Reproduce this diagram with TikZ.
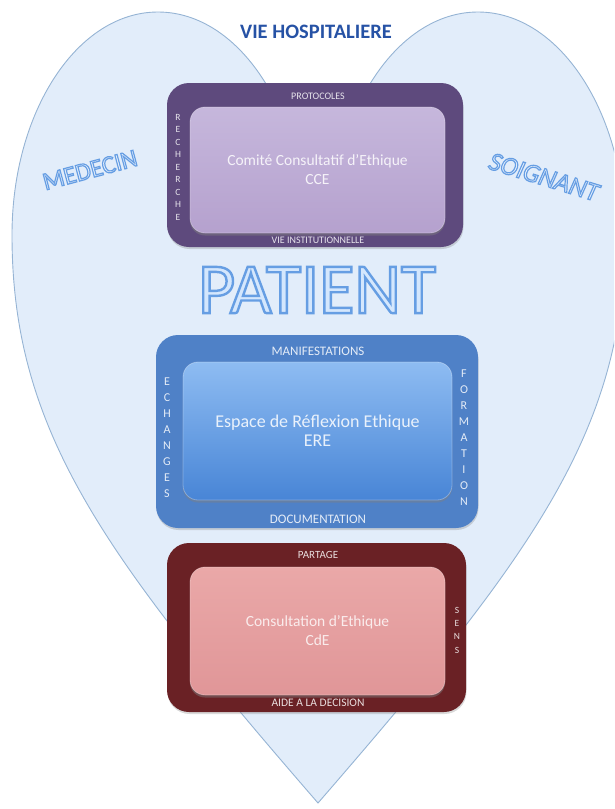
\documentclass[tikz,border=0pt]{standalone}
\usepackage{fontspec}
\setmainfont{Carlito}
\usetikzlibrary{shadows}

\definecolor{heartfill}{RGB}{226,237,250}
\definecolor{heartline}{RGB}{150,180,212}
\definecolor{titleblue}{RGB}{38,82,165}
\definecolor{paleblue}{RGB}{238,246,255}
\definecolor{patblue}{RGB}{212,231,253}
\definecolor{cceout}{RGB}{94,74,125}
\definecolor{ccetop}{RGB}{198,183,220}
\definecolor{ccebot}{RGB}{181,161,206}
\definecolor{ereout}{RGB}{79,129,199}
\definecolor{eretop}{RGB}{142,188,242}
\definecolor{erebot}{RGB}{72,133,214}
\definecolor{cdeout}{RGB}{106,33,37}
\definecolor{cdetop}{RGB}{234,168,168}
\definecolor{cdebot}{RGB}{224,150,152}

% outlined letters: fill #1, stroke blue of width #2
\newcommand{\rimword}[3]{\textcolor{#1}{\special{pdf:literal direct 2 Tr #2 w 0.40 0.62 0.89 RG}#3\special{pdf:literal direct 0 Tr}}}

\begin{document}
\begin{tikzpicture}[x=1pt,y=-1pt,
  outerbox/.style={rectangle,rounded corners=22pt,inner sep=0pt,
    drop shadow={opacity=0.3,shadow xshift=0.5pt,shadow yshift=-2pt}},
  innerbox/.style={rectangle,rounded corners=15pt,inner sep=0pt,draw=white,draw opacity=0.3,line width=0.8pt,
    drop shadow={opacity=0.45,shadow xshift=0pt,shadow yshift=-2.5pt}},
  edgelbl/.style={inner sep=0pt,font=\fontsize{#1}{#1}\selectfont},
  vlbl/.style args={#1/#2}{inner sep=0pt,align=center,font=\fontsize{#1}{#2}\selectfont},
  maintxt/.style={align=center,font=\fontsize{#1}{19}\selectfont}]

\useasboundingbox (0,0) rectangle (614,809);
\clip (0,0) rectangle (614,809);

% heart
\filldraw[fill=heartfill,draw=heartline,line width=0.9pt]
  (318,803) .. controls (103,555) and (12,430) .. (12,235)
  .. controls (12,112) and (77,12) .. (158,12)
  .. controls (239,12) and (305,112) .. (305,235)
  -- (331,235)
  .. controls (331,112) and (397,12) .. (478,12)
  .. controls (559,12) and (625,112) .. (625,235)
  .. controls (625,430) and (533,555) .. (318,803) -- cycle;

\node[font=\fontsize{20.5}{20}\selectfont\bfseries,text=titleblue] (vh) at (316,32) {VIE HOSPITALIERE};
\node[rotate=15,font=\fontsize{25}{25}\selectfont] (med) at (90,170) {\rimword{paleblue}{1.2}{MEDECIN}};
\node[rotate=-17,font=\fontsize{26}{26}\selectfont\itshape] (soi) at (544,177) {\rimword{paleblue}{1.2}{SOIGNANT}};
\node[font=\fontsize{72}{72}\selectfont] (pat) at (317,290) {\rimword{patblue}{2.4}{PATIENT}};

% comite consultatif
\node[outerbox,fill=cceout,minimum width=296pt,minimum height=164pt] (cce) at (315,165) {};
\node[innerbox,top color=ccetop,bottom color=ccebot,minimum width=255pt,minimum height=126pt] (cceIn) at (317.5,170) {};
\node[maintxt=15.5,text=white,opacity=0.85] at (cceIn) {Comité Consultatif d’Ethique\\CCE};
\node[edgelbl=10,text=white!85!cceout] at (318,96) {PROTOCOLES};
\node[edgelbl=10,text=white!85!cceout] at (318,240) {VIE INSTITUTIONNELLE};
\node[vlbl=9.5/12.5,text=white!85!cceout] at (178,167) {R\\E\\C\\H\\E\\R\\C\\H\\E};

% espace de reflexion
\node[outerbox,fill=ereout,minimum width=322pt,minimum height=193pt] (ere) at (317,431.5) {};
\node[innerbox,top color=eretop,bottom color=erebot,minimum width=269pt,minimum height=138pt] (ereIn) at (317.5,431) {};
\node[maintxt=18,text=white,opacity=0.85] at (ereIn) {Espace de Réflexion Ethique\\ERE};
\node[edgelbl=13,text=white!85!ereout] at (318,351) {MANIFESTATIONS};
\node[edgelbl=13,text=white!85!ereout] at (318,519) {DOCUMENTATION};
\node[vlbl=12/16,text=white!85!ereout] at (167,437.5) {E\\C\\H\\A\\N\\G\\E\\S};
\node[vlbl=12/16,text=white!85!ereout] at (464,437.5) {F\\O\\R\\M\\A\\T\\I\\O\\N};

% consultation
\node[outerbox,fill=cdeout,minimum width=299pt,minimum height=169pt] (cde) at (316.5,627.5) {};
\node[innerbox,top color=cdetop,bottom color=cdebot,minimum width=255pt,minimum height=128pt] (cdeIn) at (317.5,631) {};
\node[maintxt=15.5,text=white,opacity=0.8] at (cdeIn) {Consultation d’Ethique\\CdE};
\node[edgelbl=11,text=white!85!cdeout] at (318,555) {PARTAGE};
\node[edgelbl=11.5,text=white!85!cdeout] at (318,703) {AIDE A LA DECISION};
\node[vlbl=9.5/13.3,text=white!85!cdeout] at (457,630) {S\\E\\N\\S};

\end{tikzpicture}
\end{document}
